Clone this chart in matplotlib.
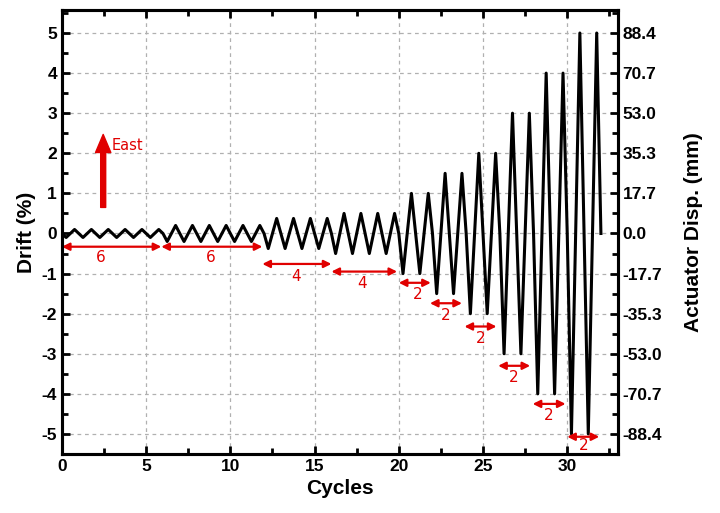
import matplotlib
matplotlib.use("Agg")
import matplotlib.pyplot as plt
import numpy as np

# loading protocol: drift amplitude (%) and number of cycles per step
step_amp = [0.1, 0.2, 0.375, 0.5, 1.0, 1.5, 2.0, 3.0, 4.0, 5.0]
step_cycles = [6, 6, 4, 4, 2, 2, 2, 2, 2, 2]

drift_ticks = [-5, -4, -3, -2, -1, 0, 1, 2, 3, 4, 5]
disp_labels = ["-88.4", "-70.7", "-53.0", "-35.3", "-17.7", "0.0",
               "17.7", "35.3", "53.0", "70.7", "88.4"]

# annotation arrows: (x start, x end, y, label, label x, label y)
arrow_x0 = [0.0, 5.9, 11.9, 16.0, 20.0, 21.85, 23.9, 25.9, 27.95, 30.0]
arrow_x1 = [5.9, 11.9, 16.0, 19.9, 21.9, 23.75, 25.8, 27.8, 29.9, 31.9]
arrow_y = [-0.33, -0.33, -0.76, -0.95, -1.23, -1.74, -2.32, -3.3, -4.25, -5.07]
arrow_txt = ["6", "6", "4", "4", "2", "2", "2", "2", "2", "2"]
txt_x = [2.3, 8.85, 13.9, 17.8, 21.1, 22.8, 24.85, 26.85, 28.9, 31.0]
txt_y = [-0.6, -0.6, -1.07, -1.25, -1.52, -2.04, -2.62, -3.59, -4.55, -5.3]

# build triangle waveform: 0 -> -A -> +A -> 0 each cycle
xs, ys = [0.0], [0.0]
n = 0
for a, c in zip(step_amp, step_cycles):
    for _ in range(c):
        xs += [n + 0.25, n + 0.75, n + 1.0]
        ys += [-a, a, 0.0]
        n += 1

red = "#e00000"
plt.rcParams["font.family"] = ["Liberation Sans", "DejaVu Sans"]

fig = plt.figure(figsize=(7.2, 5.13), dpi=100)
ax = fig.add_axes([0.086, 0.115, 0.772, 0.866])

ax.plot(xs, ys, color="black", lw=2.2, zorder=3)
ax.set_xlim(0, 33)
ax.set_ylim(-5.5, 5.58)
ax.set_xticks([0, 5, 10, 15, 20, 25, 30])
ax.set_xticks(np.arange(2.5, 33, 5), minor=True)
ax.set_yticks(drift_ticks)
ax.set_yticks(np.arange(-5.5, 5.6, 1.0), minor=True)
ax.set_yticklabels([str(t) for t in drift_ticks])
ax.grid(True, which="major", ls=(0, (3, 3)), color="#b0b0b0", lw=0.9)
ax.tick_params(which="both", direction="in", top=True, width=2,
               labelsize=12.5)
ax.tick_params(which="major", length=6)
ax.tick_params(which="minor", length=4)
for lab in ax.get_xticklabels() + ax.get_yticklabels():
    lab.set_fontweight("bold")
for sp in ax.spines.values():
    sp.set_linewidth(2.2)
ax.set_xlabel("Cycles", fontsize=15, fontweight="bold", labelpad=4)
ax.set_ylabel("Drift (%)", fontsize=15, fontweight="bold", labelpad=4)

ax2 = ax.twinx()
ax2.set_ylim(ax.get_ylim())
ax2.set_yticks(drift_ticks)
ax2.set_yticks(np.arange(-5.5, 5.6, 1.0), minor=True)
ax2.set_yticklabels(disp_labels, fontweight="bold")
ax2.tick_params(which="both", direction="in", width=2, labelsize=12.5)
ax2.tick_params(which="major", length=6)
ax2.tick_params(which="minor", length=4)
for sp in ax2.spines.values():
    sp.set_linewidth(2.2)
ax2.set_ylabel("Actuator Disp. (mm)", fontsize=15, fontweight="bold",
               labelpad=16)

for x0, x1, y, t, tx, ty in zip(arrow_x0, arrow_x1, arrow_y, arrow_txt,
                               txt_x, txt_y):
    ax.annotate("", xy=(x1, y), xytext=(x0, y),
                arrowprops=dict(arrowstyle="<|-|>", color=red, lw=1.6,
                                mutation_scale=11, shrinkA=0, shrinkB=0),
                zorder=4)
    ax.text(tx, ty, t, color=red, fontsize=11, family="DejaVu Sans",
            ha="center", va="center", zorder=4)

# east direction arrow
ax.annotate("", xy=(2.45, 2.47), xytext=(2.45, 0.65),
            arrowprops=dict(facecolor=red, edgecolor=red, width=3.6,
                            headwidth=11, headlength=13, shrink=0))
ax.text(2.95, 2.2, "East", color=red, fontsize=10.5, family="DejaVu Sans",
        ha="left", va="center")

fig.savefig("out.png", dpi=100)
